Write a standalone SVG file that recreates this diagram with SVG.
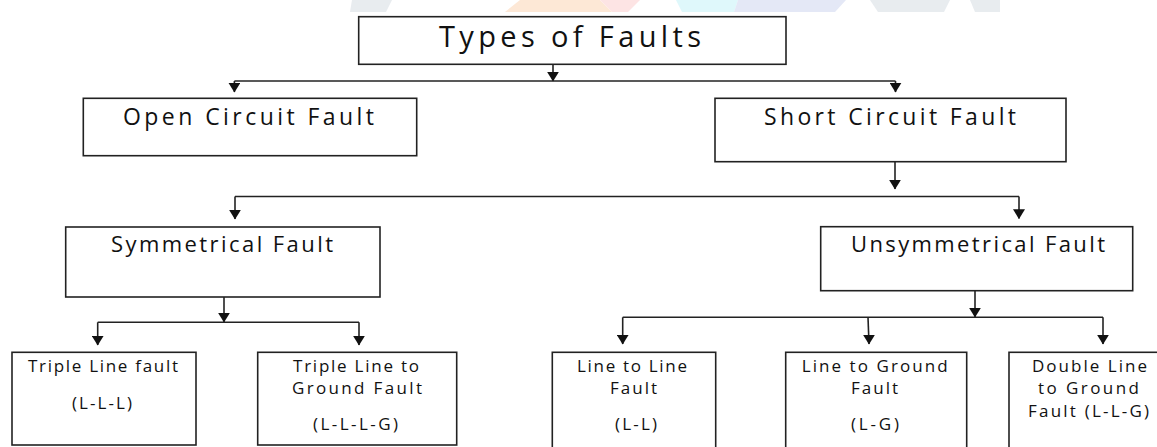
<svg xmlns="http://www.w3.org/2000/svg" width="1157" height="447" viewBox="0 0 1157 447">
<style>
.box{fill:#fff;stroke:#222;stroke-width:1.6}
.t{font-family:"Open Sans","Liberation Sans",sans-serif;fill:#111;font-weight:500}
.t25{font-size:29px}
.t20{font-size:23px}
.t19{font-size:22px}
.t15{font-size:17px}
.c{fill:none;stroke:#222;stroke-width:1.6}
</style>
<defs>
<marker id="ah" markerUnits="userSpaceOnUse" markerWidth="12" markerHeight="10" refX="5.5" refY="8.5" orient="0" viewBox="0 0 11 9">
<path d="M0 0 L11 0 L5.5 9 Z" fill="#111"/>
</marker>
</defs>
<rect width="1157" height="447" fill="#fff"/>
<g id="watermark" opacity="0.9">
<polygon points="352,0 392,0 386,12 350,12" fill="#e6eaee"/>
<polygon points="520,0 600,0 612,12 505,12" fill="#fde6d2"/>
<polygon points="600,0 640,0 628,12 612,12" fill="#fde2e2"/>
<polygon points="676,0 738,0 734,12 682,12" fill="#dcf8fb"/>
<polygon points="738,0 846,0 835,12 734,12" fill="#e2e6f6"/>
<polygon points="870,0 950,0 944,12 878,12" fill="#e6eaee"/>
<polygon points="970,0 1000,0 1000,12 975,12" fill="#e6eaee"/>
</g>
<g id="connectors">
<path class="c" d="M553 64.3 V81" marker-end="url(#ah)"/>
<path class="c" d="M234.4 81 H895.5"/>
<path class="c" d="M234.4 81 V92" marker-end="url(#ah)"/>
<path class="c" d="M895.5 81 V92" marker-end="url(#ah)"/>
<path class="c" d="M895 161.7 V189" marker-end="url(#ah)"/>
<path class="c" d="M235 196.5 H1019"/>
<path class="c" d="M235 196.5 V219" marker-end="url(#ah)"/>
<path class="c" d="M1019 196.5 V218.5" marker-end="url(#ah)"/>
<path class="c" d="M224 297 V322" marker-end="url(#ah)"/>
<path class="c" d="M97.7 322.3 H359"/>
<path class="c" d="M97.7 322.3 V345" marker-end="url(#ah)"/>
<path class="c" d="M359 322.3 V345" marker-end="url(#ah)"/>
<path class="c" d="M975 290.7 V317" marker-end="url(#ah)"/>
<path class="c" d="M622.7 317.3 H1103"/>
<path class="c" d="M622.7 317.3 V344" marker-end="url(#ah)"/>
<path class="c" d="M868 317.3 L869 344" marker-end="url(#ah)"/>
<path class="c" d="M1103 317.3 V344" marker-end="url(#ah)"/>
</g>
<g id="types">
<rect class="box" x="358.7" y="16.7" width="427.3" height="47.6"/>
<text class="t t25" x="439" y="46.7" textLength="262" lengthAdjust="spacing">Types of Faults</text>
</g>
<g id="open">
<rect class="box" x="83.3" y="98.3" width="333.4" height="57.4"/>
<text class="t t20" x="123" y="125" textLength="251" lengthAdjust="spacing">Open Circuit Fault</text>
</g>
<g id="short">
<rect class="box" x="715" y="98.3" width="351" height="63.4"/>
<text class="t t20" x="764" y="125" textLength="252" lengthAdjust="spacing">Short Circuit Fault</text>
</g>
<g id="sym">
<rect class="box" x="65.7" y="227" width="314.3" height="70"/>
<text class="t t19" x="111" y="251.7" textLength="222" lengthAdjust="spacing">Symmetrical Fault</text>
</g>
<g id="unsym">
<rect class="box" x="820.7" y="226.7" width="312" height="64"/>
<text class="t t19" x="851" y="251.7" textLength="254" lengthAdjust="spacing">Unsymmetrical Fault</text>
</g>
<g id="lll">
<rect class="box" x="12" y="352.3" width="184" height="92.7"/>
<text class="t t15" x="28" y="372.3" textLength="150" lengthAdjust="spacing">Triple Line fault</text>
<text class="t t15" x="72" y="408.5" textLength="60" lengthAdjust="spacing">(L-L-L)</text>
</g>
<g id="lllg">
<rect class="box" x="257.7" y="352.3" width="199" height="92.7"/>
<text class="t t15" x="293" y="372.3" textLength="126" lengthAdjust="spacing">Triple Line to</text>
<text class="t t15" x="292" y="394.3" textLength="130" lengthAdjust="spacing">Ground Fault</text>
<text class="t t15" x="313" y="429.5" textLength="85" lengthAdjust="spacing">(L-L-L-G)</text>
</g>
<g id="ll">
<rect class="box" x="552.3" y="352.3" width="163.4" height="100"/>
<text class="t t15" x="577" y="372.3" textLength="110" lengthAdjust="spacing">Line to Line</text>
<text class="t t15" x="610" y="394.3" textLength="47" lengthAdjust="spacing">Fault</text>
<text class="t t15" x="615" y="429.5" textLength="42" lengthAdjust="spacing">(L-L)</text>
</g>
<g id="lg">
<rect class="box" x="785.7" y="352.3" width="181" height="100"/>
<text class="t t15" x="801.7" y="372.3" textLength="146" lengthAdjust="spacing">Line to Ground</text>
<text class="t t15" x="851" y="394.3" textLength="47" lengthAdjust="spacing">Fault</text>
<text class="t t15" x="851" y="429.5" textLength="48" lengthAdjust="spacing">(L-G)</text>
</g>
<g id="llg">
<rect class="box" x="1009" y="352.3" width="160" height="100"/>
<text class="t t15" x="1032" y="372.3" textLength="115" lengthAdjust="spacing">Double Line</text>
<text class="t t15" x="1038" y="394.3" textLength="101" lengthAdjust="spacing">to Ground</text>
<text class="t t15" x="1028" y="416.7" textLength="121" lengthAdjust="spacing">Fault (L-L-G)</text>
</g>
</svg>
